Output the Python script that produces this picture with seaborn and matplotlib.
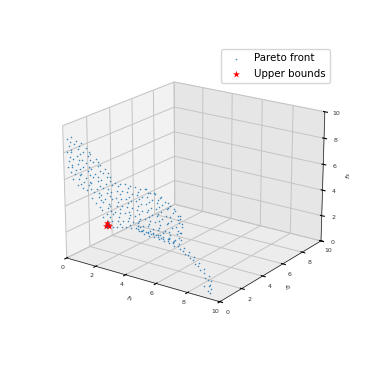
import seaborn as sns
import matplotlib.pyplot as plt

sns.set_palette('tab10')

# one list per column (depth f2 can't be read, kept near the front)
f1_cols = [
    [0.10, 0.22, 0.05, 0.18, 0.12],
    [0.40, 0.55, 0.38, 0.50, 0.42, 0.56, 0.46],
    [0.70, 0.85, 0.74, 0.80, 0.68, 0.86, 0.75],
    [1.02, 1.16, 1.05, 1.14, 1.00, 1.18, 1.08],
    [1.35, 1.48, 1.38, 1.46, 1.32, 1.50, 1.40],
    [1.66, 1.80, 1.70, 1.78, 1.64, 1.82, 1.72],
    [2.00, 2.12, 1.96, 2.10, 2.02, 2.14, 1.98],
    [2.30, 2.44, 2.32, 2.42, 2.28, 2.46, 2.36, 2.40],
    [2.62, 2.76, 2.66, 2.74, 2.60, 2.78, 2.68, 2.72, 2.64],
    [2.94, 3.08, 2.98, 3.06, 2.92, 3.10, 3.00, 3.04],
    [3.26, 3.40, 3.30, 3.38, 3.24, 3.42, 3.32],
    [3.58, 3.72, 3.62, 3.70, 3.56, 3.74, 3.64],
    [3.90, 4.04, 3.94, 4.02, 3.88, 4.06, 3.96],
    [4.22, 4.36, 4.26, 4.34, 4.20, 4.38, 4.28],
    [4.55, 4.69, 4.59, 4.67, 4.53, 4.71, 4.61],
    [4.87, 5.01, 4.91, 4.99, 4.85, 5.03, 4.93],
    [5.19, 5.33, 5.23, 5.31, 5.17, 5.35, 5.25],
    [5.51, 5.65, 5.55, 5.63, 5.49, 5.67, 5.57],
    [5.83, 5.97, 5.87, 5.95, 5.81, 5.99, 5.89],
    [6.15, 6.29, 6.19, 6.27, 6.13, 6.31, 6.21],
    [6.47, 6.61, 6.51, 6.59, 6.45, 6.63],
    [6.79, 6.93, 6.83, 6.91, 6.77, 6.95],
    [7.11, 7.25, 7.15, 7.23, 7.09],
    [7.40, 7.50, 7.38, 7.48],
    # second pass, between the columns above
    [0.28, 0.34, 0.26, 0.36, 0.30],
    [0.90, 0.98, 0.88, 0.96, 0.92, 1.00],
    [1.54, 1.62, 1.52, 1.60, 1.56, 1.64],
    [2.18, 2.26, 2.16, 2.24, 2.20, 2.28, 2.22],
    [2.82, 2.90, 2.80, 2.88, 2.84, 2.92, 2.86, 2.78],
    [3.46, 3.54, 3.44, 3.52, 3.48, 3.56],
    [4.10, 4.18, 4.08, 4.16, 4.12, 4.20],
    [4.75, 4.83, 4.73, 4.81, 4.77, 4.85],
    [5.39, 5.47, 5.37, 5.45, 5.41, 5.49],
    [6.03, 6.11, 6.01, 6.09, 6.05, 6.13],
    [6.67, 6.75, 6.65, 6.73, 6.69],
    [7.27, 7.35, 7.25, 7.33],
]
f3_cols = [
    [9.0, 8.5, 8.0, 7.4, 6.9],
    [9.2, 8.7, 8.1, 7.6, 7.0, 6.5, 6.1],
    [9.0, 8.4, 7.9, 7.3, 6.8, 6.2, 5.7],
    [8.9, 8.3, 7.7, 7.2, 6.6, 6.1, 5.6],
    [8.6, 8.1, 7.5, 7.0, 6.4, 5.9, 5.5],
    [8.3, 7.7, 7.2, 6.6, 6.1, 5.5, 5.0],
    [8.0, 7.5, 6.9, 6.4, 5.8, 5.2, 4.7],
    [7.6, 7.1, 6.5, 6.0, 5.4, 4.9, 4.3, 3.8],
    [7.4, 6.9, 6.3, 5.7, 5.2, 4.6, 4.1, 3.6, 3.1],
    [6.9, 6.4, 5.8, 5.3, 4.8, 4.2, 3.7, 3.2],
    [6.6, 6.0, 5.5, 4.9, 4.4, 3.8, 3.3],
    [6.6, 6.1, 5.5, 5.0, 4.4, 3.9, 3.4],
    [6.7, 6.1, 5.6, 5.0, 4.5, 4.0, 3.5],
    [6.6, 6.1, 5.5, 5.0, 4.5, 4.0, 3.5],
    [6.6, 6.1, 5.6, 5.0, 4.5, 4.0, 3.6],
    [6.6, 6.0, 5.5, 5.0, 4.4, 3.9, 3.5],
    [6.7, 6.1, 5.6, 5.0, 4.5, 4.0, 3.5],
    [6.5, 6.0, 5.4, 4.9, 4.4, 3.9, 3.5],
    [6.5, 5.9, 5.4, 4.9, 4.4, 3.9, 3.5],
    [6.3, 5.8, 5.3, 4.8, 4.3, 3.8, 3.4],
    [6.1, 5.6, 5.1, 4.5, 4.0, 3.4],
    [5.9, 5.4, 4.8, 4.3, 3.8, 3.3],
    [5.6, 5.0, 4.5, 4.0, 3.5],
    [5.1, 4.6, 4.1, 3.6],
    [8.8, 8.2, 7.7, 7.1, 6.6],
    [8.7, 8.1, 7.6, 7.0, 6.5, 5.9],
    [8.4, 7.8, 7.3, 6.7, 6.2, 5.7],
    [7.8, 7.2, 6.7, 6.1, 5.5, 5.0, 4.5],
    [7.2, 6.6, 6.0, 5.5, 4.9, 4.4, 3.9, 3.4],
    [6.4, 5.8, 5.2, 4.7, 4.1, 3.6],
    [6.4, 5.8, 5.3, 4.7, 4.2, 3.7],
    [6.3, 5.8, 5.3, 4.7, 4.2, 3.8],
    [6.4, 5.8, 5.2, 4.7, 4.2, 3.7],
    [6.1, 5.6, 5.1, 4.6, 4.1, 3.6],
    [5.7, 5.1, 4.6, 4.0, 3.5],
    [5.3, 4.8, 4.2, 3.7],
]
band_f1 = [4.74, 4.70, 4.80, 5.06, 5.00, 5.12, 5.38, 5.34, 5.44, 5.71, 5.66, 5.76, 6.03, 5.98, 6.08,
           6.35, 6.30, 6.40, 6.67, 6.62, 6.72, 6.99, 6.94, 7.04, 7.31, 7.26, 7.36, 7.63, 7.58, 7.68,
           7.95, 7.90, 8.00, 8.27, 8.22, 8.32, 8.59, 8.54, 8.64, 8.91, 8.86, 8.96, 8.90,
           9.17, 9.12, 9.20, 9.14, 9.29, 9.24, 9.32, 9.26]
band_f3 = [3.79, 3.57, 3.43, 3.65, 3.51, 3.37, 3.6, 3.46, 3.31, 3.62, 3.48, 3.33, 3.56, 3.41, 3.27,
           3.5, 3.36, 3.21, 3.45, 3.31, 3.16, 3.39, 3.24, 3.03, 3.26, 3.12, 2.91, 3.07, 2.85, 2.64,
           2.86, 2.65, 2.43, 2.59, 2.38, 2.09, 2.26, 2.04, 1.76, 1.92, 1.63, 1.27, 0.7,
           1.55, 1.19, 0.76, 0.4, 1.22, 0.86, 0.58, 0.3]
rim_f1 = [5.26, 5.77, 6.22, 6.67, 7.05, 7.37, 7.5, 7.44]
rim_f3 = [6.71, 6.56, 6.4, 6.09, 5.76, 5.35, 4.81, 4.09]
depth_f2 = 0.2
ub_f1 = [2.62, 2.72, 2.67, 2.77]
ub_f2 = [0.2, 0.2, 0.2, 0.2]
ub_f3 = [3.2, 3.3, 3.4, 3.25]
ticks = [0, 2, 4, 6, 8, 10]

f1 = rim_f1 + band_f1
f3 = rim_f3 + band_f3
for xs, zs in zip(f1_cols, f3_cols):
    f1 += xs
    f3 += zs
f2 = [depth_f2] * len(f1)

fig = plt.figure(figsize=(3.74, 3.74), dpi=100)
ax = fig.add_subplot(projection='3d')
ax.scatter(f1, f2, f3, s=1.3, marker='o', linewidths=0, alpha=0.85, depthshade=False,
           color=sns.color_palette()[0], label='Pareto front')
ax.scatter(ub_f1, ub_f2, ub_f3, s=28, marker='*', linewidths=0, depthshade=False, color='red', label='Upper bounds')
ax.set_xlim(0, 10)
ax.set_ylim(0, 10)
ax.set_zlim(0, 10)
ax.set_xticks(ticks)
ax.set_yticks(ticks)
ax.set_zticks(ticks)
ax.tick_params(labelsize=4.5, pad=-3, width=0.4, length=2, labelcolor='#333333')
ax.tick_params(axis='x', pad=-4)
ax.set_xlabel('$f_1$', fontsize=4.5, labelpad=-10)
ax.set_ylabel('$f_2$', fontsize=4.5, labelpad=-10)
ax.set_zlabel('$f_3$', fontsize=4.5, labelpad=-10)
ax.view_init(elev=20, azim=-55)
ax.xaxis.set_pane_color((0.95, 0.95, 0.95, 1))
ax.yaxis.set_pane_color((0.90, 0.90, 0.90, 1))
ax.zaxis.set_pane_color((0.925, 0.925, 0.925, 1))
for axis in (ax.xaxis, ax.yaxis, ax.zaxis):
    axis.line.set_linewidth(0.4)
    axis._axinfo['grid']['linewidth'] = 0.7
    axis._axinfo['grid']['color'] = '#c4c4c4'
fig.legend(loc='upper right', bbox_to_anchor=(0.882, 0.868), borderaxespad=0, fontsize=7.4)
fig.savefig('out.png', dpi=100)
